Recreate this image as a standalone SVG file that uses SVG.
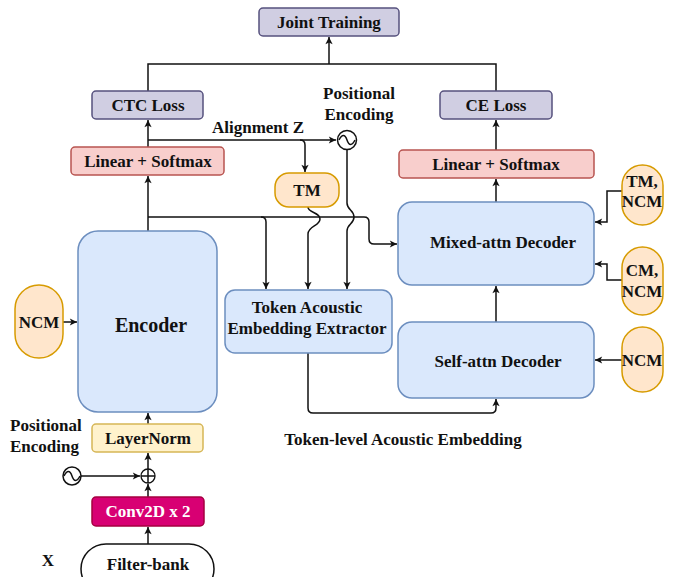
<svg xmlns="http://www.w3.org/2000/svg" width="675" height="577" viewBox="0 0 675 577" font-family="'Liberation Serif', 'DejaVu Serif', 'Times New Roman', serif" font-weight="bold">
<style>
text{font-size:17px;fill:#111;text-anchor:middle}
.purple{fill:#d0cee2;stroke:#56517e;stroke-width:1.5}
.red{fill:#f8cecc;stroke:#b85450;stroke-width:1.5}
.orange{fill:#ffe6cc;stroke:#d79b00;stroke-width:1.5}
.blue{fill:#dae8fc;stroke:#6c8ebf;stroke-width:1.5}
.yellow{fill:#fff2cc;stroke:#d6b656;stroke-width:1.5}
.mag{fill:#d80073;stroke:#a50040;stroke-width:1.5}
.wire{fill:none;stroke:#111;stroke-width:1.5}
.arr{marker-end:url(#ah)}
</style>
<defs>
<marker id="ah" viewBox="0 0 10 10" refX="9" refY="5" markerWidth="9" markerHeight="9" orient="auto" markerUnits="userSpaceOnUse">
<path d="M1,1 L9,5 L1,9 L3,5 z" fill="#111"/>
</marker>
</defs>
<rect width="675" height="577" fill="#fff"/>
<g id="connectors">
<path class="wire" d="M148,91 V64 H496 V91"/>
<path class="wire arr" d="M329,64 V37"/>
<path class="wire arr" d="M148,147 V120"/>
<path class="wire arr" d="M148,231 V176"/>
<path class="wire arr" d="M148,140 H336"/>
<path class="wire arr" d="M300,140 Q305,140 305,145 V172"/>
<path class="wire arr" d="M148,217 H364 Q369,217 369,222 V239 Q369,244 374,244 H397"/>
<path class="wire arr" d="M261,217 Q266,217 266,222 V289"/>
<path class="wire arr" d="M308,207 C308,213 320,212 320,219 C320,226 308,226 308,234 V289"/>
<path class="wire arr" d="M347,150 V203 C347,210 354,210 354,217 C354,224 347,224 347,231 V289"/>
<path class="wire arr" d="M308,353 V408 Q308,413 313,413 H491 Q496,413 496,408 V399"/>
<path class="wire arr" d="M496,322 V286"/>
<path class="wire arr" d="M496,202 V179"/>
<path class="wire arr" d="M496,150 V120"/>
<path class="wire arr" d="M622,191 H607 V222 H595"/>
<path class="wire arr" d="M622,280 H607 V264 H595"/>
<path class="wire arr" d="M622,360 H595"/>
<path class="wire arr" d="M63,322 H77"/>
<path class="wire arr" d="M148,544 V527"/>
<path class="wire arr" d="M148,497 V484"/>
<path class="wire arr" d="M148,469 V453"/>
<path class="wire arr" d="M148,424 V413"/>
<path class="wire arr" d="M81,476 H140"/>
</g>
<g id="joint-training"><rect class="purple" x="259" y="8" width="140" height="28" rx="4"/><text x="329" y="28">Joint Training</text></g>
<g id="ctc-loss"><rect class="purple" x="92" y="91" width="111" height="28" rx="4"/><text x="148" y="111">CTC Loss</text></g>
<g id="ce-loss"><rect class="purple" x="440" y="91" width="112" height="28" rx="4"/><text x="496" y="111">CE Loss</text></g>
<g id="linear-left"><rect class="red" x="71" y="147" width="153" height="28" rx="4"/><text x="148" y="167">Linear + Softmax</text></g>
<g id="linear-right"><rect class="red" x="399" y="150" width="195" height="28" rx="4"/><text x="496" y="170">Linear + Softmax</text></g>
<g id="alignment-label"><text x="258" y="133">Alignment Z</text></g>
<g id="pe-top"><circle cx="347" cy="140" r="9.5" fill="#fff" stroke="#111" stroke-width="1.5"/><path d="M339,140 C342,134 345,134 347,140 C349,146 352,146 355,140" class="wire" stroke-width="1.2"/><text x="359" y="99">Positional</text><text x="359" y="120">Encoding</text></g>
<g id="tm"><rect class="orange" x="275" y="173" width="64" height="34" rx="14"/><text x="307" y="196">TM</text></g>
<g id="encoder"><rect class="blue" x="78" y="231" width="139" height="181" rx="20"/><text x="151" y="332" style="font-size:20px">Encoder</text></g>
<g id="ncm-left"><rect class="orange" x="15" y="285" width="48" height="73" rx="24"/><text x="39" y="328">NCM</text></g>
<g id="token-extractor"><rect class="blue" x="225" y="290" width="167" height="63" rx="10"/><text x="307" y="313">Token Acoustic</text><text x="307" y="334">Embedding Extractor</text></g>
<g id="mixed-decoder"><rect class="blue" x="398" y="202" width="196" height="83" rx="14"/><text x="503" y="248">Mixed-attn Decoder</text></g>
<g id="self-decoder"><rect class="blue" x="398" y="322" width="196" height="76" rx="14"/><text x="498" y="367">Self-attn Decoder</text></g>
<g id="tm-ncm"><rect class="orange" x="622" y="165" width="41" height="60" rx="20.5"/><text x="642" y="187">TM,</text><text x="642" y="207">NCM</text></g>
<g id="cm-ncm"><rect class="orange" x="622" y="247" width="41" height="68" rx="20.5"/><text x="642" y="276">CM,</text><text x="642" y="297">NCM</text></g>
<g id="ncm-right"><rect class="orange" x="622" y="327" width="41" height="65" rx="20.5"/><text x="642" y="366">NCM</text></g>
<g id="token-level-label"><text x="403" y="445">Token-level Acoustic Embedding</text></g>
<g id="pe-bottom"><text x="10" y="431" style="text-anchor:start">Positional</text><text x="10" y="452" style="text-anchor:start">Encoding</text><circle cx="72" cy="476" r="9" fill="#fff" stroke="#111" stroke-width="1.5"/><path d="M64,476 C67,470 70,470 72,476 C74,482 77,482 80,476" class="wire" stroke-width="1.2"/></g>
<g id="layernorm"><rect class="yellow" x="92" y="424" width="111" height="28" rx="4"/><text x="148" y="444">LayerNorm</text></g>
<g id="plus"><circle cx="148" cy="476" r="7" fill="#fff" stroke="#111" stroke-width="1.3"/><path d="M141,476 H155 M148,469 V483" class="wire" stroke-width="1.2"/></g>
<g id="conv2d"><rect class="mag" x="92" y="497" width="112" height="29" rx="4"/><text x="148" y="517" style="fill:#fff">Conv2D x 2</text></g>
<g id="filter-bank"><rect x="81" y="544" width="133" height="50" rx="25" fill="#fff" stroke="#111" stroke-width="1.5"/><text x="148" y="570">Filter-bank</text></g>
<g id="x-label"><text x="48" y="566">X</text></g>
</svg>
